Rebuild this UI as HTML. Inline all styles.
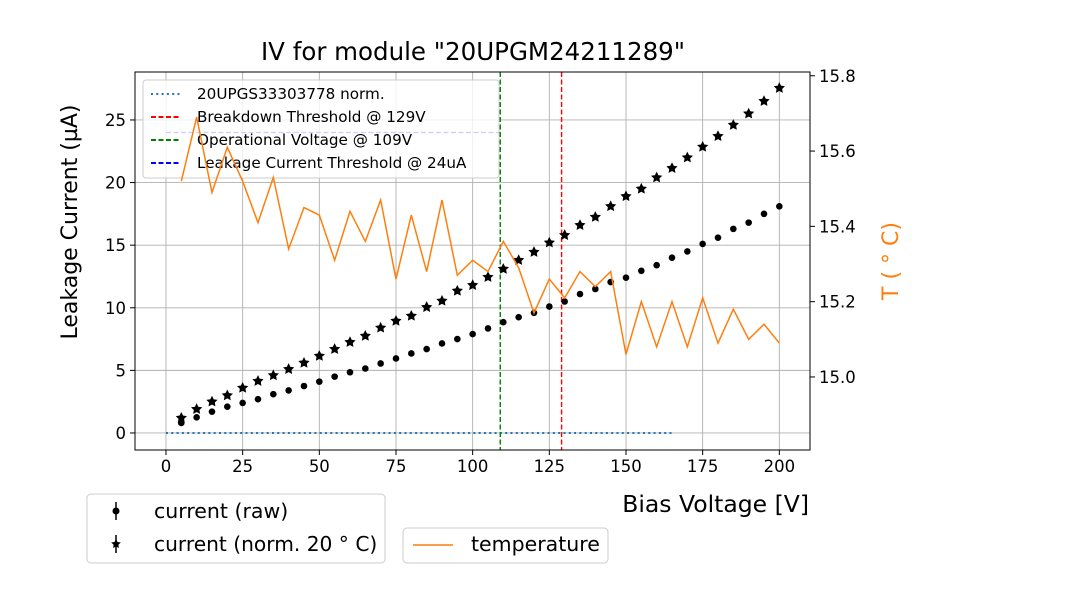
<!DOCTYPE html>
<html><head><meta charset="utf-8"><style>
body{margin:0;background:#fff;}
svg{display:block;font-family:"DejaVu Sans","Liberation Sans",sans-serif;}
</style></head><body>
<svg id="c" width="1080" height="600" viewBox="0 0 1080 600" xmlns="http://www.w3.org/2000/svg"></svg>
<script>
const voltages=[5,10,15,20,25,30,35,40,45,50,55,60,65,70,75,80,85,90,95,100,105,110,115,120,125,130,135,140,145,150,155,160,165,170,175,180,185,190,195,200];
const currentRaw=[0.8,1.25,1.7,2.1,2.4,2.7,3.1,3.4,3.75,4.1,4.5,4.85,5.15,5.55,5.95,6.35,6.7,7.15,7.5,7.9,8.35,8.85,9.25,9.6,10.1,10.5,11.1,11.5,12.05,12.4,12.95,13.4,14.0,14.5,15.1,15.6,16.3,16.8,17.5,18.1];
const currentNorm=[1.2,1.9,2.5,3.0,3.6,4.15,4.6,5.1,5.6,6.15,6.7,7.25,7.75,8.4,8.95,9.35,10.05,10.55,11.35,11.8,12.45,13.1,13.8,14.45,15.2,15.8,16.6,17.25,18.1,18.9,19.5,20.4,21.15,22.0,22.85,23.7,24.6,25.5,26.5,27.55];
const temperature=[15.52,15.69,15.49,15.61,15.52,15.41,15.53,15.34,15.45,15.43,15.31,15.44,15.36,15.47,15.26,15.43,15.28,15.47,15.27,15.31,15.28,15.36,15.29,15.17,15.26,15.21,15.28,15.24,15.28,15.06,15.20,15.08,15.20,15.08,15.21,15.09,15.18,15.10,15.14,15.09];
const xTicks=[0,25,50,75,100,125,150,175,200];
const yTicks=[0,5,10,15,20,25];
const y2Ticks=[15.0,15.2,15.4,15.6,15.8];
const refVoltage=[0,165];
const breakdownV=129, operationalV=109, leakageThr=24;

const L=135,R=810,T=72,B=450;
const X=v=>L+(v+10.1)/(220.1)*(R-L);
const Y=v=>B-(v+1.36)/(30.19)*(B-T);
const Y2=v=>B-(v-14.806)/(1.004)*(B-T);
const svg=document.getElementById('c');
const NS='http://www.w3.org/2000/svg';
function mk(tag,at,txt){const e=document.createElementNS(NS,tag);for(const k in at)e.setAttribute(k,at[k]);if(txt!==undefined)e.textContent=txt;svg.appendChild(e);return e;}

xTicks.forEach(t=>{const e=mk('line',{x1:X(t),x2:X(t),y1:T,y2:B,stroke:'#b0b0b0','stroke-width':0.9});

});
yTicks.forEach(t=>{const e=mk('line',{x1:L,x2:R,y1:Y(t),y2:Y(t),stroke:'#b0b0b0','stroke-width':0.9});

});

let e=mk('line',{x1:X(refVoltage[0]),x2:X(refVoltage[1]),y1:Y(0),y2:Y(0),stroke:'#1f77b4','stroke-width':2,'stroke-dasharray':'2,3.3'});


e=mk('line',{x1:X(0),x2:X(operationalV),y1:Y(leakageThr),y2:Y(leakageThr),stroke:'#0000ff','stroke-width':1.3,'stroke-dasharray':'5,2.5'});


e=mk('line',{x1:X(operationalV),x2:X(operationalV),y1:T,y2:B,stroke:'#008000','stroke-width':1.4,'stroke-dasharray':'5,2.5'});


e=mk('line',{x1:X(breakdownV),x2:X(breakdownV),y1:T,y2:B,stroke:'#ff0000','stroke-width':1.4,'stroke-dasharray':'5,2.5'});



voltages.forEach((v,i)=>{const c=mk('circle',{cx:X(v),cy:Y(currentRaw[i]),r:3.3,fill:'#000'});

});
function star(cx,cy,r){let p=[];for(let k=0;k<10;k++){const a=-Math.PI/2+k*Math.PI/5;const rr=k%2?r*0.5:r;p.push((cx+rr*Math.cos(a)).toFixed(1)+','+(cy+rr*Math.sin(a)).toFixed(1));}return p.join(' ');}
voltages.forEach((v,i)=>{const s=mk('polygon',{points:star(X(v),Y(currentNorm[i]),5),fill:'#000',stroke:'#000','stroke-width':0.8});

});

e=mk('rect',{x:143,y:80,width:356,height:98,rx:3,fill:'#fff','fill-opacity':0.8,stroke:'#ccc'});


const leg=[['20UPGS33303778 norm.','#1f77b4','2,3.3'],['Breakdown Threshold @ 129V','#ff0000','5,2.5'],['Operational Voltage @ 109V','#008000','5,2.5'],['Leakage Current Threshold @ 24uA','#0000ff','5,2.5']];
leg.forEach((l,i)=>{const y=94+i*23;mk('line',{x1:151,x2:181,y1:y,y2:y,stroke:l[1],'stroke-width':2,'stroke-dasharray':l[2]});
const tx=mk('text',{x:197,y:y+5,'font-size':15.2},l[0]);

});

e=mk('polyline',{points:voltages.map((v,i)=>X(v)+','+Y2(temperature[i])).join(' '),fill:'none',stroke:'#ff7f0e','stroke-width':1.5});



e=mk('rect',{x:L,y:T,width:R-L,height:B-T,fill:'none',stroke:'#000','stroke-width':1});



xTicks.forEach(t=>{mk('line',{x1:X(t),x2:X(t),y1:B,y2:B+5,stroke:'#000'});
const tx=mk('text',{x:X(t),y:B+22,'font-size':16.5,'text-anchor':'middle'},String(t));

});
yTicks.forEach(t=>{mk('line',{x1:L-5,x2:L,y1:Y(t),y2:Y(t),stroke:'#000'});
const tx=mk('text',{x:L-9,y:Y(t)+6,'font-size':16.5,'text-anchor':'end'},String(t));

});
y2Ticks.forEach(t=>{mk('line',{x1:R,x2:R+5,y1:Y2(t),y2:Y2(t),stroke:'#000'});
const tx=mk('text',{x:R+9,y:Y2(t)+6,'font-size':16.5},t.toFixed(1));

});

e=mk('text',{x:473,y:60,'font-size':24.5,'text-anchor':'middle'},'IV for module "20UPGM24211289"');

e=mk('text',{x:809,y:512,'font-size':23.5,'text-anchor':'end'},'Bias Voltage [V]');

e=mk('text',{x:77,y:222,'font-size':22,'text-anchor':'middle',transform:'rotate(-90 77 222)'},'Leakage Current (µA)');

e=mk('text',{x:898,y:261,'font-size':22,'text-anchor':'middle',fill:'#ff7f0e',transform:'rotate(-90 898 261)'},'T ( ° C)');


e=mk('rect',{x:87,y:494,width:298,height:69,rx:4,fill:'#fff',stroke:'#ccc'});

mk('line',{x1:116,x2:116,y1:502,y2:520,stroke:'#000','stroke-width':1.5});mk('circle',{cx:116,cy:511,r:3.5,fill:'#000'});
e=mk('text',{x:154,y:518,'font-size':20.5},'current (raw)');

mk('line',{x1:116,x2:116,y1:535,y2:553,stroke:'#000','stroke-width':1.5});mk('polygon',{points:star(116,544,5),fill:'#000'});
e=mk('text',{x:154,y:551,'font-size':20.2},'current (norm. 20 ° C)');

e=mk('rect',{x:403,y:528,width:205,height:35,rx:4,fill:'#fff',stroke:'#ccc'});

mk('line',{x1:413,x2:453,y1:545,y2:545,stroke:'#ff7f0e','stroke-width':1.5});
e=mk('text',{x:471,y:551,'font-size':20.5},'temperature');

</script>
</body></html>
